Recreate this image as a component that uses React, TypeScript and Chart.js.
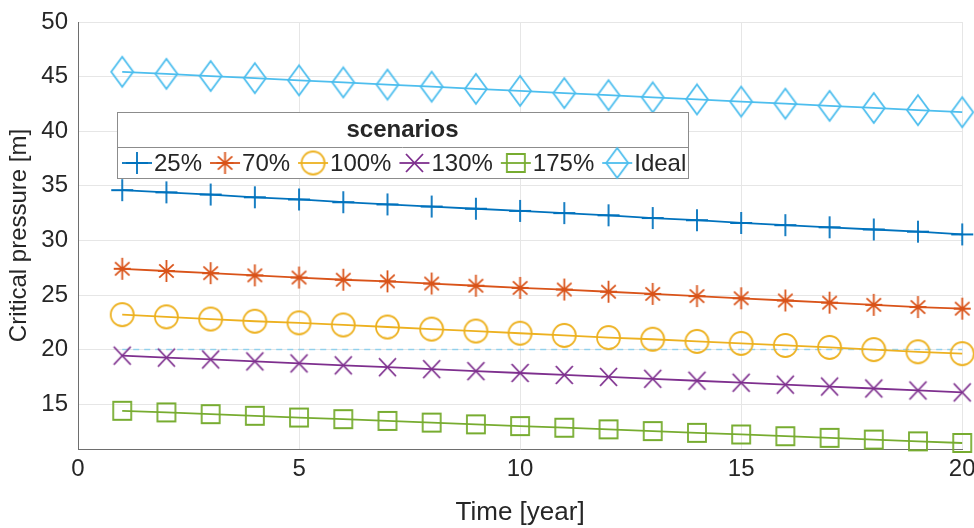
import React, { useEffect, useRef } from "react";
import { Chart, registerables } from "chart.js";

Chart.register(...registerables);

const years = [1, 2, 3, 4, 5, 6, 7, 8, 9, 10, 11, 12, 13, 14, 15, 16, 17, 18, 19, 20];
const xTicks = [0, 5, 10, 15, 20];
const yTicks = [15, 20, 25, 30, 35, 40, 45, 50];

const s25 = [34.6, 34.4, 34.2, 33.95, 33.75, 33.5, 33.3, 33.1, 32.9, 32.7, 32.5, 32.3, 32.05, 31.85, 31.6, 31.4, 31.2, 31.0, 30.8, 30.55];
const s70 = [27.4, 27.2, 27.0, 26.8, 26.6, 26.4, 26.25, 26.05, 25.85, 25.65, 25.5, 25.3, 25.1, 24.9, 24.7, 24.5, 24.3, 24.1, 23.9, 23.75];
const s100 = [23.2, 23.0, 22.8, 22.6, 22.45, 22.26, 22.07, 21.88, 21.7, 21.5, 21.3, 21.1, 20.95, 20.75, 20.57, 20.38, 20.2, 20.0, 19.8, 19.63];
const s130 = [19.45, 19.27, 19.1, 18.92, 18.74, 18.56, 18.39, 18.21, 18.03, 17.86, 17.68, 17.5, 17.33, 17.15, 16.97, 16.79, 16.62, 16.44, 16.26, 16.08];
const s175 = [14.4, 14.25, 14.09, 13.94, 13.78, 13.63, 13.47, 13.32, 13.16, 13.0, 12.85, 12.7, 12.54, 12.38, 12.23, 12.07, 11.92, 11.76, 11.6, 11.45];
const sIdeal = [45.44, 45.25, 45.05, 44.86, 44.66, 44.47, 44.27, 44.08, 43.88, 43.69, 43.49, 43.3, 43.1, 42.91, 42.71, 42.52, 42.32, 42.13, 41.93, 41.74];

const thresholdX = [1, 20];
const thresholdY = [20, 20];

const seriesLabels = ["25%", "70%", "100%", "130%", "175%", "Ideal"];
const seriesColors = ["#0072BD", "#D95319", "#EDB120", "#7E2F8E", "#77AC30", "#4DBEEE"];
const seriesMarkers = ["plus", "star", "circle", "x", "square", "diamond"];
const seriesData = [s25, s70, s100, s130, s175, sIdeal];
const legendTitle = "scenarios";

const FONT = "'Liberation Sans', Arial, Helvetica, sans-serif";
const TEXT = "#262626";

function makeMarker(kind: string, color: string): HTMLCanvasElement {
  const sizes: Record<string, [number, number]> = {
    plus: [22, 22],
    star: [17, 22],
    circle: [23, 23],
    x: [17, 18],
    square: [18, 18],
    diamond: [22, 30],
  };
  const [w, h] = sizes[kind];
  const pad = 2;
  const c = document.createElement("canvas");
  c.width = w + 2 * pad;
  c.height = h + 2 * pad;
  const ctx = c.getContext("2d")!;
  ctx.strokeStyle = color;
  ctx.lineWidth = 1.8;
  const cx = c.width / 2;
  const cy = c.height / 2;
  const rx = w / 2;
  const ry = h / 2;
  ctx.beginPath();
  if (kind === "plus") {
    ctx.moveTo(cx - rx, cy); ctx.lineTo(cx + rx, cy);
    ctx.moveTo(cx, cy - ry); ctx.lineTo(cx, cy + ry);
  } else if (kind === "star") {
    ctx.moveTo(cx - rx, cy); ctx.lineTo(cx + rx, cy);
    ctx.moveTo(cx, cy - ry); ctx.lineTo(cx, cy + ry);
    ctx.moveTo(cx - rx * 0.85, cy - ry * 0.6); ctx.lineTo(cx + rx * 0.85, cy + ry * 0.6);
    ctx.moveTo(cx - rx * 0.85, cy + ry * 0.6); ctx.lineTo(cx + rx * 0.85, cy - ry * 0.6);
  } else if (kind === "circle") {
    ctx.ellipse(cx, cy, rx, ry, 0, 0, Math.PI * 2);
  } else if (kind === "x") {
    ctx.moveTo(cx - rx, cy - ry); ctx.lineTo(cx + rx, cy + ry);
    ctx.moveTo(cx - rx, cy + ry); ctx.lineTo(cx + rx, cy - ry);
  } else if (kind === "square") {
    ctx.rect(cx - rx, cy - ry, w, h);
  } else if (kind === "diamond") {
    ctx.moveTo(cx, cy - ry); ctx.lineTo(cx + rx, cy);
    ctx.lineTo(cx, cy + ry); ctx.lineTo(cx - rx, cy);
    ctx.closePath();
  }
  ctx.stroke();
  return c;
}

const insideLegend = {
  id: "insideLegend",
  afterDraw(chart: any) {
    const ctx = chart.ctx as CanvasRenderingContext2D;
    const area = chart.chartArea;
    const items = chart.data.datasets.filter((d: any) => d.label);
    const left = area.left + 39;
    const top = area.top + 90;
    const width = 571;
    const height = 66;
    ctx.save();
    ctx.fillStyle = "#ffffff";
    ctx.fillRect(left, top, width, height);
    ctx.strokeStyle = "#8c8c8c";
    ctx.lineWidth = 1;
    ctx.strokeRect(left + 0.5, top + 0.5, width, height);
    ctx.beginPath();
    ctx.moveTo(left, top + 35.5);
    ctx.lineTo(left + width, top + 35.5);
    ctx.stroke();
    ctx.fillStyle = TEXT;
    ctx.font = `bold 24px ${FONT}`;
    ctx.textAlign = "center";
    ctx.textBaseline = "middle";
    ctx.fillText(legendTitle, left + width / 2, top + 18);
    ctx.font = `24px ${FONT}`;
    ctx.textAlign = "left";
    let x = left + 5;
    const y = top + 51;
    items.forEach((d: any) => {
      const slot = 30;
      ctx.strokeStyle = d.borderColor;
      ctx.lineWidth = 1.8;
      ctx.beginPath();
      ctx.moveTo(x, y);
      ctx.lineTo(x + slot, y);
      ctx.stroke();
      const img = d.pointStyle as HTMLCanvasElement;
      ctx.drawImage(img, x + slot / 2 - img.width / 2, y - img.height / 2);
      x += slot + 2;
      ctx.fillStyle = TEXT;
      ctx.fillText(d.label, x, y + 1);
      x += ctx.measureText(d.label).width + 8;
    });
    ctx.restore();
  },
};

export default function App() {
  const ref = useRef<HTMLCanvasElement | null>(null);
  useEffect(() => {
    if (!ref.current) return;
    const datasets: any[] = seriesData.map((vals, i) => ({
      label: seriesLabels[i],
      data: years.map((yr, j) => ({ x: yr, y: vals[j] })),
      borderColor: seriesColors[i],
      backgroundColor: seriesColors[i],
      borderWidth: 1.8,
      pointStyle: makeMarker(seriesMarkers[i], seriesColors[i]),
      pointRadius: 10,
      pointHoverRadius: 10,
      clip: false,
      order: 1,
    }));
    datasets.push({
      label: "",
      data: thresholdX.map((xv, j) => ({ x: xv, y: thresholdY[j] })),
      borderColor: "rgba(77,190,238,0.55)",
      borderWidth: 1.5,
      borderDash: [6, 5],
      pointRadius: 0,
      clip: false,
      order: 10,
    });
    const chart = new Chart(ref.current, {
      type: "line",
      data: { datasets },
      options: {
        animation: false,
        responsive: false,
        layout: { padding: { top: 22, right: 9, left: 0, bottom: 0 } },
        plugins: { legend: { display: false }, tooltip: { enabled: false } },
        scales: {
          x: {
            type: "linear",
            min: 0,
            max: 20,
            afterBuildTicks: (s: any) => { s.ticks = xTicks.map((v) => ({ value: v })); },
            afterFit: (s: any) => { s.height = 79; s.paddingLeft = 0; s.paddingRight = 0; },
            ticks: { color: TEXT, font: { family: FONT, size: 24 }, padding: 6, maxRotation: 0 },
            grid: { color: "#e6e6e6", drawTicks: false, lineWidth: 1 },
            border: { color: "#6e6e6e", width: 1 },
            title: { display: true, text: "Time [year]", color: TEXT, font: { family: FONT, size: 26 }, padding: { top: 0, bottom: 0 } },
          },
          y: {
            type: "linear",
            min: 10.9,
            max: 50,
            afterBuildTicks: (s: any) => { s.ticks = yTicks.map((v) => ({ value: v })); },
            afterFit: (s: any) => { s.width = 78; s.paddingTop = 0; s.paddingBottom = 0; },
            ticks: { color: TEXT, font: { family: FONT, size: 24 }, padding: 10 },
            grid: { color: "#e6e6e6", drawTicks: false, lineWidth: 1 },
            border: { color: "#6e6e6e", width: 1 },
            title: { display: true, text: "Critical pressure [m]", color: TEXT, font: { family: FONT, size: 24 }, padding: { top: 5, bottom: 0 } },
          },
        },
      },
      plugins: [insideLegend],
    });
    return () => chart.destroy();
  }, []);
  return (
    <div style={{ position: "fixed", left: 0, top: 0, width: 974, height: 528, background: "#fff" }}>
      <canvas ref={ref} width={974} height={528} style={{ display: "block" }} />
    </div>
  );
}
